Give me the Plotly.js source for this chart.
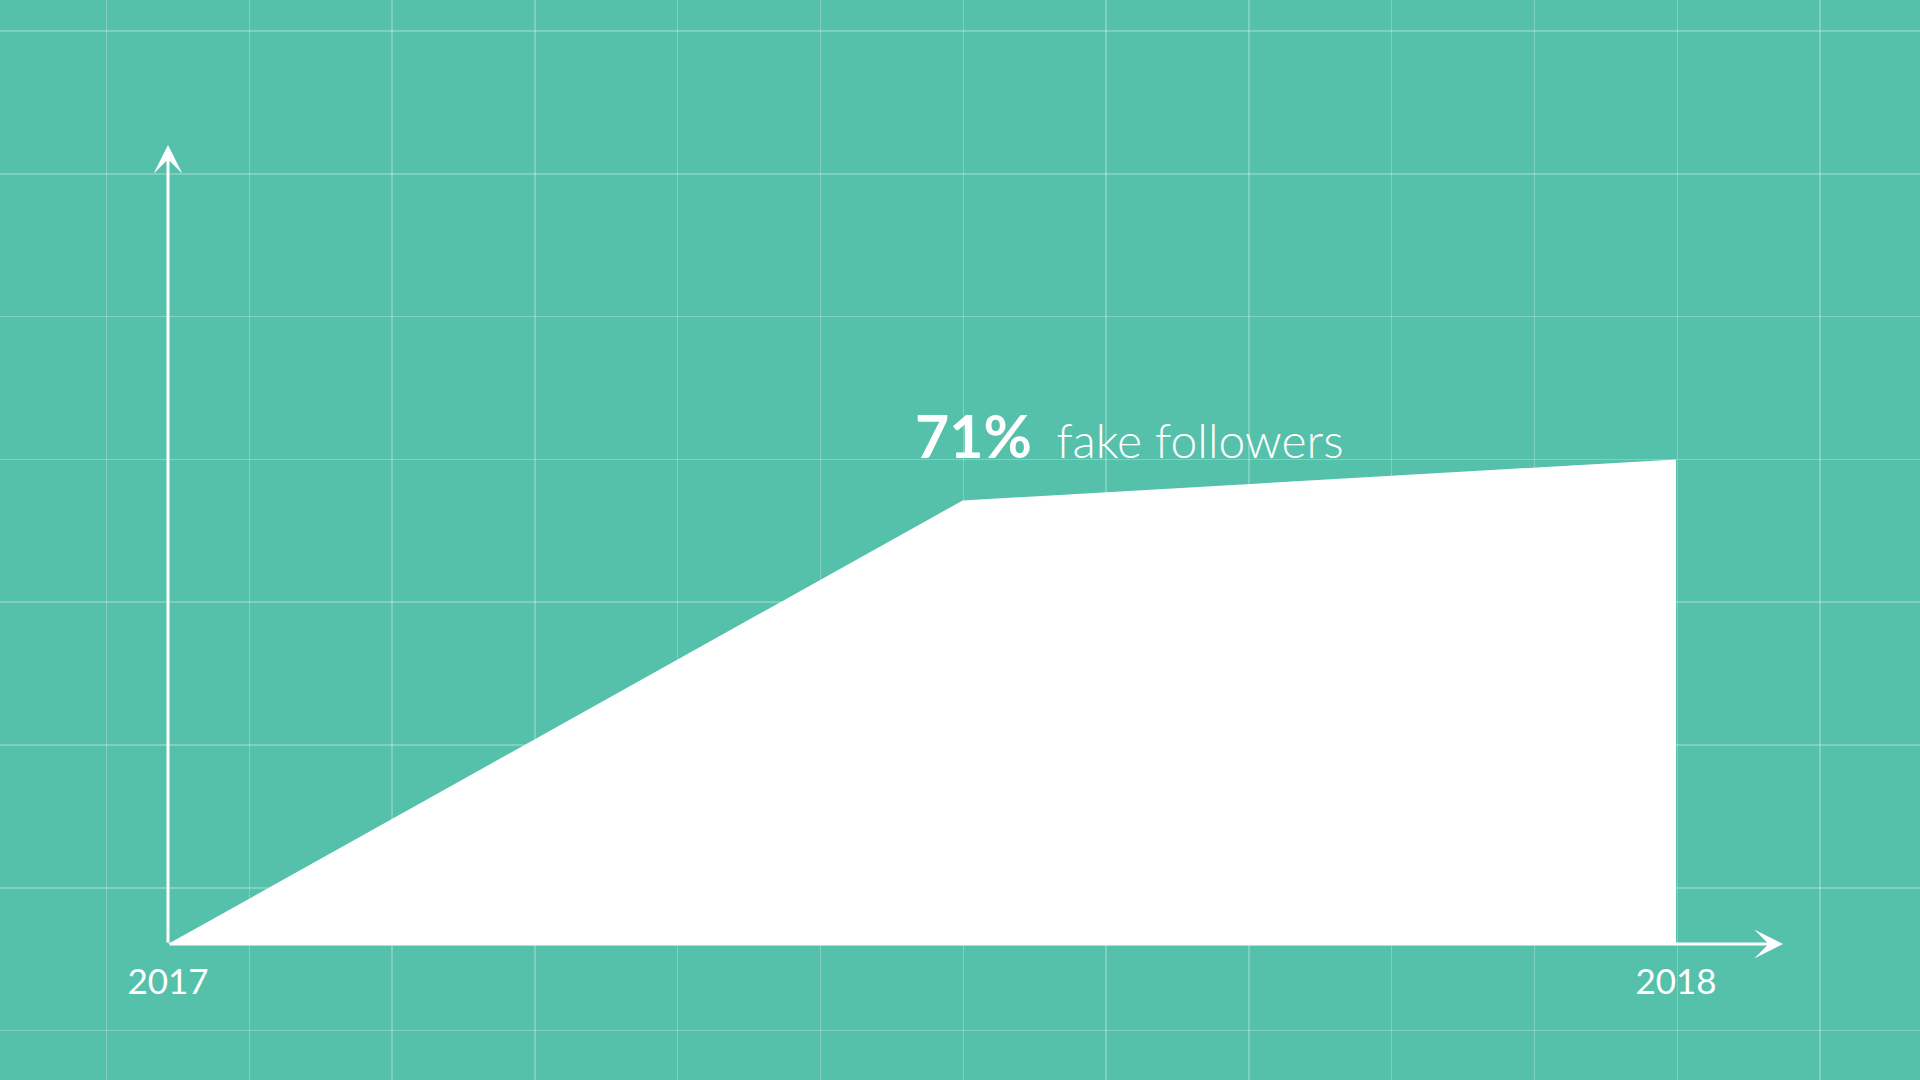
<!DOCTYPE html>
<html>
<head>
<meta charset="utf-8">
<script src="https://cdn.plot.ly/plotly-3.0.1.min.js"></script>
<style>
  html, body { margin: 0; padding: 0; background: #55c1aa; }
  #chart { width: 1920px; height: 1080px; }
</style>
</head>
<body>
<div id="chart"></div>
<script>
// share of fake followers over the year
let years = [2017, 2017.527, 2018];
let fakeShare = [0, 65, 71];
let tickYears = [2017, 2018];
let tickLabels = ['2017', '2018'];

let bg = '#55c1aa';
let gridCol = 'rgba(255,255,255,0.25)';

// pixel mapping of the drawing (1920x1080, no margins)
let x0px = 168, x1px = 1676, W = 1920, H = 1080;
let pxPerYear = x1px - x0px;
let y0px = 944, pxPerPct = 484.5 / 71;

let xRange = [2017 - x0px / pxPerYear, 2017 + (W - x0px) / pxPerYear];
let yRange = [-(H - y0px) / pxPerPct, y0px / pxPerPct];

let area = {
    type: 'scatter',
    mode: 'lines',
    x: years, y: fakeShare,
    fill: 'tozeroy',
    fillcolor: '#ffffff',
    line: {width: 0, color: '#ffffff'},
    hoverinfo: 'skip',
    showlegend: false
};

// empty trace so the background grid axes get drawn
let gridTrace = {
    type: 'scatter', mode: 'markers',
    x: [null], y: [null],
    xaxis: 'x2', yaxis: 'y2',
    hoverinfo: 'skip', showlegend: false
};

let arrowTipX = 2017 + (1783 - x0px) / pxPerYear;
let arrowTipY = (y0px - 145) / pxPerPct;

let layout = {
    width: W, height: H, autosize: false,
    margin: {l: 0, r: 0, t: 0, b: 0, pad: 0},
    paper_bgcolor: bg,
    plot_bgcolor: bg,
    font: {family: 'Lato, "Open Sans", sans-serif', color: '#ffffff'},
    xaxis: {
        range: xRange,
        anchor: 'free', position: (H - y0px) / H,
        tickvals: tickYears, ticktext: tickLabels,
        tickfont: {size: 35, color: '#ffffff', family: 'Lato, sans-serif'},
        ticks: '', ticklabelstandoff: 14,
        showgrid: false, zeroline: false, showline: false,
        fixedrange: true
    },
    yaxis: {
        range: yRange,
        showticklabels: false, showgrid: false, zeroline: false, showline: false,
        fixedrange: true
    },
    xaxis2: {
        overlaying: 'x', range: [0, W],
        tick0: 106.5, dtick: 142.8,
        showgrid: true, gridcolor: gridCol, gridwidth: 1.5,
        showticklabels: false, zeroline: false,
        side: 'top', showline: true, linecolor: gridCol, linewidth: 3,
        fixedrange: true
    },
    yaxis2: {
        overlaying: 'y', range: [H, 0],
        tick0: 31, dtick: 142.8,
        showgrid: true, gridcolor: gridCol, gridwidth: 1.5,
        showticklabels: false, zeroline: false, showline: false,
        fixedrange: true
    },
    annotations: [
        // x axis arrow
        {xref: 'x', yref: 'y', axref: 'x', ayref: 'y',
         x: arrowTipX, y: 0, ax: 2017, ay: 0,
         showarrow: true, arrowhead: 3, arrowwidth: 3, arrowsize: 1.6,
         arrowcolor: '#ffffff', text: '', standoff: 0},
        // y axis arrow
        {xref: 'x', yref: 'y', axref: 'x', ayref: 'y',
         x: 2017, y: arrowTipY, ax: 2017, ay: 0,
         showarrow: true, arrowhead: 3, arrowwidth: 3, arrowsize: 1.6,
         arrowcolor: '#ffffff', text: '', standoff: 0},
        // label for the last value
        {xref: 'x', yref: 'y', x: 2017.494, y: fakeShare[2],
         xanchor: 'left', yanchor: 'bottom', yshift: -13,
         showarrow: false,
         text: '<b><span style="font-size:59px">' + fakeShare[2] + '%</span></b>&nbsp;&nbsp;<span style="font-size:48px;font-weight:300">fake followers</span>',
         font: {family: 'Lato, sans-serif', color: '#ffffff', size: 48}}
    ]
};

Plotly.newPlot('chart', [gridTrace, area], layout, {staticPlot: true, displayModeBar: false});
</script>
</body>
</html>
